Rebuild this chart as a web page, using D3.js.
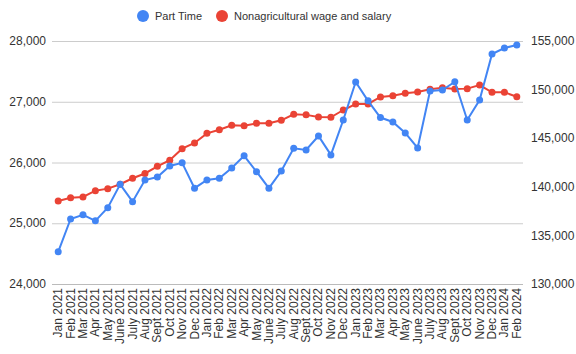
<!DOCTYPE html>
<html>
<head>
<meta charset="utf-8">
<script src="https://cdn.jsdelivr.net/npm/d3@7"></script>
<style>
  body { margin: 0; background: #fff; }
  text { font-family: "Liberation Sans", Arial, sans-serif; fill: #333; }
</style>
</head>
<body>
<div id="chart"></div>
<script>
// Months on the x axis
var months = ["Jan 2021","Feb 2021","Mar 2021","Apr 2021","May 2021","June 2021","July 2021","Aug 2021","Sept 2021","Oct 2021","Nov 2021","Dec 2021",
  "Jan 2022","Feb 2022","Mar 2022","Apr 2022","May 2022","June 2022","July 2022","Aug 2022","Sept 2022","Oct 2022","Nov 2022","Dec 2022",
  "Jan 2023","Feb 2023","Mar 2023","Apr 2023","May 2023","June 2023","July 2023","Aug 2023","Sept 2023","Oct 2023","Nov 2023","Dec 2023",
  "Jan 2024","Feb 2024"]

// Part time (left axis)
var partTime = [24530, 25070, 25140, 25040, 25255, 25640, 25355, 25710, 25760, 25942, 25995, 25577,
  25712, 25740, 25910, 26110, 25848, 25577, 25860, 26235, 26206, 26436, 26125, 26700,
  27325, 27015, 26740, 26667, 26486, 26239, 27177, 27193, 27330, 26700, 27029, 27786,
  27885, 27934]

// Nonagricultural wage and salary (right axis)
var nonAg = [138540, 138880, 138950, 139600, 139810, 140260, 140880, 141370, 142110, 142730, 143920, 144510,
  145500, 145870, 146330, 146290, 146530, 146530, 146840, 147460, 147400, 147180, 147150, 147900,
  148520, 148520, 149240, 149370, 149620, 149750, 150030, 150200, 150060, 150100, 150470, 149720,
  149720, 149270]

var leftTicks = [24000, 25000, 26000, 27000, 28000]
var rightTicks = [130000, 135000, 140000, 145000, 150000, 155000]

var blue = "#4285f4", red = "#ea4335"

var width = 576, height = 354
var mLeft = 52, mRight = 523, mTop = 41, mBottom = 284

var svg = d3.select("#chart").append("svg")
  .attr("width", width)
  .attr("height", height)

// Scales
var x = d3.scaleBand().domain(months).range([mLeft, mRight])
var yLeft = d3.scaleLinear().domain([24000, 28000]).range([mBottom, mTop])
var yRight = d3.scaleLinear().domain([130000, 155000]).range([mBottom, mTop])
function cx(d, i) { return x(months[i]) + x.bandwidth() / 2 }

// Gridlines
svg.append("g").selectAll("line")
  .data(leftTicks)
  .enter().append("line")
  .attr("x1", mLeft).attr("x2", mRight)
  .attr("y1", d => yLeft(d) + 0.5).attr("y2", d => yLeft(d) + 0.5)
  .attr("stroke", d => d == 24000 ? "#bbb" : "#ccc")
  .attr("stroke-width", 1)

// Left axis labels
svg.append("g").selectAll("text")
  .data(leftTicks)
  .enter().append("text")
  .attr("x", mLeft - 6)
  .attr("y", d => yLeft(d))
  .attr("dy", "0.35em")
  .attr("text-anchor", "end")
  .style("font-size", "12px")
  .text(d3.format(","))

// Right axis labels
svg.append("g").selectAll("text")
  .data(rightTicks)
  .enter().append("text")
  .attr("x", mRight + 8)
  .attr("y", d => yRight(d))
  .attr("dy", "0.35em")
  .style("font-size", "12px")
  .text(d3.format(","))

// X labels
svg.append("g").selectAll("text")
  .data(months)
  .enter().append("text")
  .attr("transform", (d, i) => "translate(" + (cx(d, i) + 4) + "," + (mBottom + 4) + ") rotate(-90)")
  .attr("text-anchor", "end")
  .style("font-size", "12px")
  .text(d => d)

// Series
function drawSeries(values, y, color) {
  var line = d3.line().x(cx).y(d => y(d))
  svg.append("path")
    .datum(values)
    .attr("d", line)
    .attr("fill", "none")
    .attr("stroke", color)
    .attr("stroke-width", 2)
  svg.append("g").selectAll("circle")
    .data(values)
    .enter().append("circle")
    .attr("cx", cx)
    .attr("cy", d => y(d))
    .attr("r", 3.5)
    .attr("fill", color)
}
drawSeries(nonAg, yRight, red)
drawSeries(partTime, yLeft, blue)

// Legend
var legend = [{name: "Part Time", color: blue, x: 143}, {name: "Nonagricultural wage and salary", color: red, x: 222}]
var lg = svg.append("g").selectAll("g")
  .data(legend)
  .enter().append("g")
  .attr("transform", d => "translate(" + d.x + ",16)")
lg.append("circle").attr("r", 6).attr("fill", d => d.color)
lg.append("text")
  .attr("x", 12)
  .attr("dy", "0.35em")
  .style("font-size", "11px")
  .text(d => d.name)
</script>
</body>
</html>
